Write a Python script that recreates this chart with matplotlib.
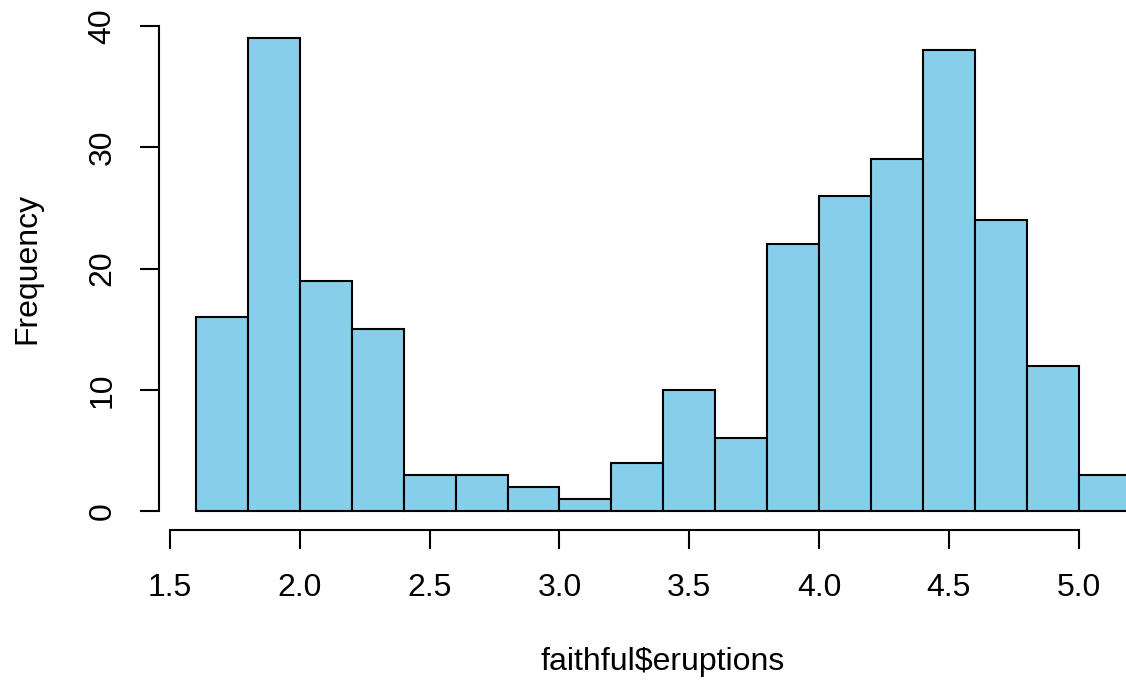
import matplotlib.pyplot as plt
import numpy as np

# histogram of faithful$eruptions, breaks every 0.2
bin_edges = [1.6, 1.8, 2.0, 2.2, 2.4, 2.6, 2.8, 3.0, 3.2, 3.4, 3.6, 3.8,
             4.0, 4.2, 4.4, 4.6, 4.8, 5.0, 5.2]
counts = [16, 39, 19, 15, 3, 3, 2, 1, 4, 10, 6, 22, 26, 29, 38, 24, 12, 3]
x_ticks = [1.5, 2.0, 2.5, 3.0, 3.5, 4.0, 4.5, 5.0]
y_ticks = [0, 10, 20, 30, 40]

plt.rcParams['font.family'] = ['Liberation Sans', 'DejaVu Sans']

W, H = 1126, 684
fig = plt.figure(figsize=(W / 100, H / 100), dpi=100)

# plot region in pixels (R style, extends past right edge)
left_px, right_px = 158.6, 1168.0
top_px, bottom_px = 6.6, 530.4
ax = fig.add_axes([left_px / W, 1 - bottom_px / H,
                   (right_px - left_px) / W, (bottom_px - top_px) / H])

widths = np.diff(bin_edges)
ax.bar(bin_edges[:-1], counts, width=widths, align='edge',
       color='#87CEEB', edgecolor='black', linewidth=1.5)

# R adds 4% on each side
rx = bin_edges[-1] - bin_edges[0]
ax.set_xlim(bin_edges[0] - 0.04 * rx, bin_edges[-1] + 0.04 * rx)
ax.set_ylim(-0.04 * 40, 40 * 1.04)

for s in ['top', 'right']:
    ax.spines[s].set_visible(False)
for s in ['left', 'bottom']:
    ax.spines[s].set_linewidth(1.5)
ax.spines['left'].set_bounds(0, 40)
ax.spines['bottom'].set_bounds(1.5, 5.0)

fs = 23
ax.set_xticks(x_ticks)
ax.set_xticklabels(['%.1f' % v for v in x_ticks])
ax.set_yticks(y_ticks)
ax.set_yticklabels([str(v) for v in y_ticks])
ax.tick_params(axis='both', length=13.7, width=1.5, labelsize=fs, direction='out')
ax.tick_params(axis='x', pad=17)
ax.tick_params(axis='y', pad=16, labelrotation=90)
for lbl in ax.get_yticklabels():
    lbl.set_va('center')

fig.text(27 / W, 1 - 268 / H, 'Frequency', rotation=90, ha='center', va='center', fontsize=fs)
fig.text(663 / W, 1 - 662 / H, 'faithful$eruptions', ha='center', va='center', fontsize=fs)

fig.savefig('out.png', dpi=100)
